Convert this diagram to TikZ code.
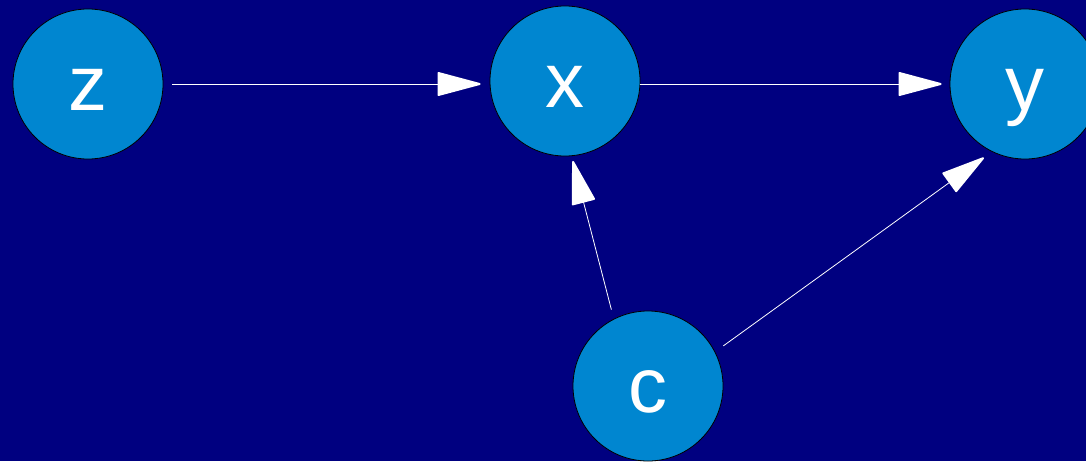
\documentclass[tikz,border=0pt]{standalone}
\usepackage{fontspec}
\setmainfont{Liberation Sans}
\usetikzlibrary{arrows.meta}
\definecolor{bgnavy}{RGB}{0,0,128}
\definecolor{nodeblue}{RGB}{0,134,208}
\begin{document}
\begin{tikzpicture}[x=1pt,y=1pt,
  varnode/.style={circle,draw=black,line width=0.8pt,fill=nodeblue,minimum size=150pt,inner sep=0pt,
    text=white,font=\fontsize{78}{78}\selectfont,text height=53pt,text depth=0pt},
  arr/.style={draw=white,line width=0.8pt,-{Triangle[length=46pt,width=24pt,round,line width=2pt]}}]
\fill[bgnavy] (0,0) rectangle (1086,-461);
\useasboundingbox (0,0) rectangle (1086,-461);
\node[varnode] (z) at (88,-84) {z};
\node[varnode] (x) at (565,-81) {x};
\node[varnode] (y) at (1025,-84) {y};
\node[varnode] (c) at (648,-386) {c};
\draw[arr,shorten <=9pt,shorten >=9pt] (z.east) -- (x.west|-z.east);
\draw[arr,shorten >=8pt] (x.east|-y.west) -- (y.west);
\draw[arr,shorten <=9.5pt,shorten >=5pt] (c.117.5) -- (x.275);
\draw[arr,shorten <=10pt,shorten >=10pt] (c.27) -- (y.244);
\end{tikzpicture}
\end{document}
